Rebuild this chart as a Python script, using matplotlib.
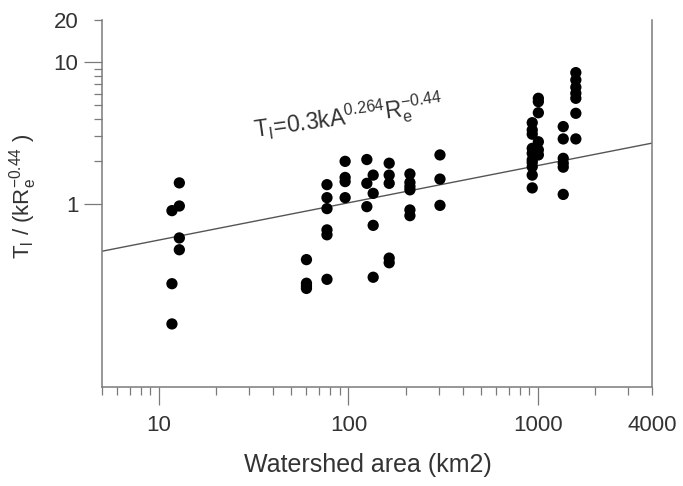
import matplotlib
matplotlib.use('Agg')
import matplotlib.pyplot as plt
from matplotlib import font_manager as fm
from matplotlib.ticker import FixedLocator, NullFormatter, FixedFormatter

names = {f.name for f in fm.fontManager.ttflist}
FAMILY = 'Liberation Sans Narrow' if 'Liberation Sans Narrow' in names else 'Liberation Sans'
plt.rcParams['font.family'] = [FAMILY, 'DejaVu Sans']
plt.rcParams['mathtext.fontset'] = 'custom'
plt.rcParams['mathtext.rm'] = FAMILY
plt.rcParams['mathtext.it'] = FAMILY

# watershed area (km2) and normalised lag time
area = [11.7, 11.7, 11.7,
        12.8, 12.8, 12.8, 12.8,
        60, 60, 60, 60,
        77, 77, 77, 77, 77, 77,
        96, 96, 96, 96,
        125, 125, 125,
        135, 135, 135, 135,
        164, 164, 164, 164, 164,
        211, 211, 211, 211, 211, 211,
        304, 304, 304,
        933, 933, 933, 933, 933, 933, 933, 933, 933, 933,
        1005, 1005, 1005, 1005, 1005, 1005,
        1360, 1360, 1360, 1360, 1360, 1360,
        1585, 1585, 1585, 1585, 1585, 1585, 1585]
ratio = [0.89, 0.27, 0.14,
         1.40, 0.96, 0.57, 0.47,
         0.40, 0.272, 0.26, 0.25,
         1.36, 1.10, 0.92, 0.65, 0.60, 0.29,
         1.99, 1.53, 1.43, 1.10,
         2.05, 1.39, 0.95,
         1.59, 1.18, 0.70, 0.30,
         1.93, 1.59, 1.39, 0.41, 0.38,
         1.62, 1.41, 1.32, 1.25, 0.90, 0.82,
         2.21, 1.49, 0.97,
         3.74, 3.32, 3.10, 2.46, 2.27, 2.04, 1.95, 1.82, 1.59, 1.29,
         5.57, 5.27, 4.40, 2.74, 2.40, 2.21,
         3.51, 2.87, 2.09, 1.93, 1.81, 1.16,
         8.47, 7.52, 6.67, 6.04, 5.57, 4.36, 2.87]

# fitted relation T_l = 0.3 k A^0.264 Re^-0.44
coef = 0.3
expo = 0.264
line_area = [5, 4000]

x_major = [10, 100, 1000, 4000]
x_major_labels = ['10', '100', '1000', '4000']
x_minor = [5, 6, 7, 8, 9, 20, 30, 40, 50, 60, 70, 80, 90,
           200, 300, 400, 500, 600, 700, 800, 900, 2000, 3000]
y_major = [1, 10, 20]
y_major_labels = ['1', '10', '20']
y_minor = [2, 3, 4, 5, 6, 7, 8, 9]

SPINE = '#7a7a7a'
TEXT = '#333333'

fig = plt.figure(figsize=(6.83, 4.86), dpi=100)
ax = fig.add_axes([102 / 683, 99 / 486, 550 / 683, 367 / 486])
ax.set_xscale('log')
ax.set_yscale('log')
ax.set_xlim(5, 4000)
ax.set_ylim(0.05, 20)

ax.plot(line_area, [coef * a ** expo for a in line_area],
        color='#555555', linewidth=1.0, zorder=2)
ax.scatter(area, ratio, s=66, color='black', edgecolor='none', zorder=3)

ax.xaxis.set_major_locator(FixedLocator(x_major))
ax.xaxis.set_major_formatter(FixedFormatter(x_major_labels))
ax.xaxis.set_minor_locator(FixedLocator(x_minor))
ax.xaxis.set_minor_formatter(NullFormatter())
ax.yaxis.set_major_locator(FixedLocator(y_major))
ax.yaxis.set_major_formatter(FixedFormatter(y_major_labels))
ax.yaxis.set_minor_locator(FixedLocator(y_minor))
ax.yaxis.set_minor_formatter(NullFormatter())

ax.tick_params(which='major', direction='out', length=13, width=0.9,
               color=SPINE, labelsize=16, labelcolor=TEXT)
ax.tick_params(which='minor', direction='out', length=6, width=0.9, color=SPINE)
ax.tick_params(axis='x', which='major', pad=7)
ax.tick_params(axis='y', which='major', pad=4)
ax.tick_params(top=False, right=False, which='both')
ax.xaxis.get_major_ticks()[-1].tick1line.set_markersize(6)
ax.yaxis.get_major_ticks()[-1].tick1line.set_markersize(6)

for side in ['left', 'bottom', 'right']:
    ax.spines[side].set_color(SPINE)
    ax.spines[side].set_linewidth(1.1)
ax.spines['top'].set_visible(False)

ax.text(32, 2.96, r'$\mathregular{T_l\!=\!0.3kA^{0.264}R_e^{-0.44}}$',
        fontsize=16.5, color=TEXT, rotation=8, rotation_mode='anchor',
        ha='left', va='baseline')

fig.text(368 / 683, 1 - 465 / 486, 'Watershed area (km2)', fontsize=18,
         color=TEXT, ha='center', va='center')
fig.text(23 / 683, 1 - 196 / 486, r'$\mathregular{T_l\ /\ (kR_e^{-0.44}\ )}$',
         fontsize=16, color=TEXT, rotation=90, ha='center', va='center')

fig.savefig('out.png', dpi=100)
